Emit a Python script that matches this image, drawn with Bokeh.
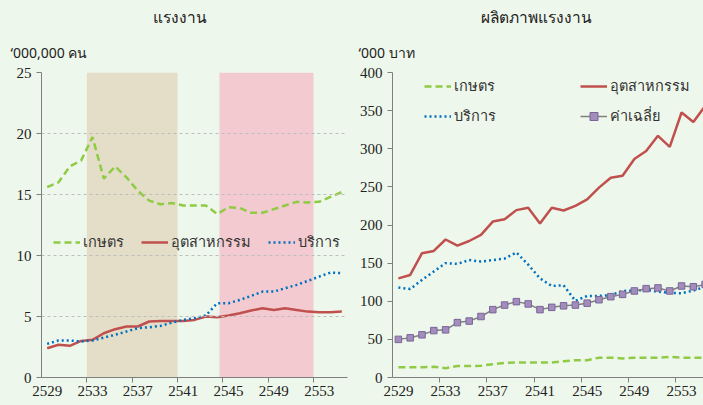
from bokeh.plotting import figure
from bokeh.models import Range1d, FixedTicker, BoxAnnotation, Legend, LegendItem, Title
from bokeh.layouts import row
from bokeh.embed import file_html
from bokeh.resources import INLINE

years = list(range(2529, 2556))

# Left panel: labour force ('000,000 persons)
labour_agri = [15.6, 16.0, 17.3, 17.8, 19.7, 16.3, 17.3, 16.4, 15.3, 14.5, 14.2, 14.3, 14.1, 14.1,
               14.1, 13.4, 13.95, 13.9, 13.5, 13.5, 13.8, 14.1, 14.4, 14.35, 14.4, 14.8, 15.2]
labour_ind = [2.4, 2.68, 2.6, 3.0, 3.09, 3.63, 3.96, 4.18, 4.18, 4.59, 4.64, 4.64, 4.64, 4.72,
              4.99, 4.94, 5.08, 5.27, 5.49, 5.68, 5.54, 5.68, 5.54, 5.40, 5.35, 5.35, 5.40]
labour_serv = [2.76, 3.03, 3.03, 2.95, 3.03, 3.27, 3.5, 3.77, 4.04, 4.12, 4.23, 4.5, 4.72, 4.86,
               5.08, 6.09, 6.09, 6.36, 6.69, 7.04, 7.04, 7.32, 7.59, 7.92, 8.27, 8.6, 8.55]

# Right panel: labour productivity ('000 baht)
prod_agri = [13.6, 13.6, 13.6, 14.0, 12.2, 15.0, 15.0, 15.3, 17.5, 19.2, 19.7, 19.7, 19.7, 19.7,
             21.4, 22.7, 22.7, 26.0, 26.0, 25.0, 26.0, 26.0, 26.0, 27.0, 26.0, 26.0, 26.0]
prod_ind = [130, 134.5, 163, 166, 181, 173, 179, 187, 204.5, 207.5, 219.5, 222.5, 202, 222.5,
            219, 225, 233.5, 249, 262, 264.5, 286.5, 297, 317, 302.5, 347.5, 335, 356]
prod_serv = [118, 116, 128, 139, 150, 149, 154, 152, 154, 156, 164, 148, 130, 120, 121, 100.5,
             107, 107, 108, 113.5, 114, 115, 112.5, 111, 110.5, 114, 119]
prod_avg = [50, 52, 56, 61.5, 62.5, 72, 74, 80, 89, 95, 99.5, 96.5, 89, 92, 94, 95, 97.5, 102,
            106, 109, 113.5, 116.5, 117.5, 113.5, 120, 119, 122]

tick_years = [2529, 2533, 2537, 2541, 2545, 2549, 2553]
boundary_ticks = [2532.5, 2536.5, 2540.5, 2544.5, 2548.5, 2552.5]
shade_start = [2532.5, 2544.2]
shade_end = [2540.5, 2552.5]
shade_colors = ["#E4DEC8", "#F2CAD0"]

left_yticks = [0, 5, 10, 15, 20, 25]
right_yticks = [0, 50, 100, 150, 200, 250, 300, 350, 400]

BG = "#EEF7EB"
GREEN = "#8FCB45"
RED = "#C0504D"
BLUE = "#0070C0"
GREY = "#808080"
AXIS = "#7F7F7F"
NUMFONT = "Liberation Serif"
THAI = "Noto Sans"


def style(p, yticks):
    p.background_fill_color = BG
    p.border_fill_color = BG
    p.outline_line_color = None
    p.xgrid.visible = False
    xa = p.xaxis[0]
    xa.ticker = FixedTicker(ticks=tick_years, minor_ticks=boundary_ticks)
    xa.major_tick_out = 0
    xa.major_tick_in = 0
    xa.minor_tick_out = 5
    xa.minor_tick_in = 0
    xa.minor_tick_line_color = AXIS
    xa.axis_line_color = AXIS
    xa.major_label_standoff = 3
    ya = p.yaxis[0]
    ya.ticker = FixedTicker(ticks=yticks)
    ya.major_tick_out = 5
    ya.major_tick_in = 0
    ya.minor_tick_line_color = None
    ya.axis_line_color = AXIS
    ya.major_tick_line_color = AXIS
    ya.major_label_standoff = 5
    for a in (xa, ya):
        a.major_label_text_font = NUMFONT
        a.major_label_text_font_size = "15px"
        a.major_label_text_color = "#222222"


def add_titles(p, main, unit, main_offset, unit_offset):
    p.add_layout(Title(text=unit, align="left", offset=unit_offset, text_font=THAI,
                       text_font_size="14px", text_font_style="normal", text_color="#222222",
                       standoff=21), "above")
    p.add_layout(Title(text=main, align="left", offset=main_offset, text_font=THAI,
                       text_font_size="15.5px", text_font_style="normal", text_color="#222222",
                       standoff=5), "above")


# ---------------- Left panel ----------------
p1 = figure(width=355, height=398, output_backend="svg", toolbar_location=None,
            x_range=Range1d(2528.5, 2555.5), y_range=Range1d(0, 25),
            min_border_left=41, min_border_right=8, min_border_top=72, min_border_bottom=0)
style(p1, left_yticks)
p1.ygrid.ticker = FixedTicker(ticks=left_yticks[1:])
p1.ygrid.grid_line_color = "#BDBDBD"
p1.ygrid.grid_line_dash = "3 3"
p1.ygrid.level = "glyph"
for s, e, c in zip(shade_start, shade_end, shade_colors):
    p1.add_layout(BoxAnnotation(left=s, right=e, fill_color=c, fill_alpha=1.0,
                                line_color=None, level="underlay"))
add_titles(p1, "แรงงาน", "‘000,000 คน", 111, -31)

la = p1.line(years, labour_agri, line_color=GREEN, line_width=2.5, line_dash="7 4")
li = p1.line(years, labour_ind, line_color=RED, line_width=2.5)
ls = p1.line(years, labour_serv, line_color=BLUE, line_width=2.5, line_dash="2 3")

leg1 = Legend(items=[LegendItem(label="เกษตร", renderers=[la]),
                     LegendItem(label="อุตสาหกรรม", renderers=[li]),
                     LegendItem(label="บริการ", renderers=[ls])],
              orientation="horizontal", location=(12, 124))
p1.add_layout(leg1, "center")

# ---------------- Right panel ----------------
p2 = figure(width=348, height=398, output_backend="svg", toolbar_location=None,
            x_range=Range1d(2528.5, 2554.86), y_range=Range1d(0, 400),
            min_border_left=37, min_border_right=0, min_border_top=72, min_border_bottom=0)
style(p2, right_yticks)
p2.ygrid.visible = False
add_titles(p2, "ผลิตภาพแรงงาน", "‘000 บาท", 88, -34)

ra = p2.line(years, prod_agri, line_color=GREEN, line_width=2.5, line_dash="7 4")
ri = p2.line(years, prod_ind, line_color=RED, line_width=2.5)
rs = p2.line(years, prod_serv, line_color=BLUE, line_width=2.5, line_dash="2 3")
rv = p2.line(years, prod_avg, line_color=GREY, line_width=1.5)
rm = p2.scatter(years, prod_avg, marker="square", size=6.5, fill_color="#A28DBD",
                line_color="#7A6699", line_width=1)

leg2a = Legend(items=[LegendItem(label="เกษตร", renderers=[ra]),
                      LegendItem(label="บริการ", renderers=[rs])],
               orientation="vertical", location=(32, 250))
leg2b = Legend(items=[LegendItem(label="อุตสาหกรรม", renderers=[ri]),
                      LegendItem(label="ค่าเฉลี่ย", renderers=[rv, rm])],
               orientation="vertical", location=(188, 250))
p2.add_layout(leg2a, "center")
p2.add_layout(leg2b, "center")

for lg in (leg1, leg2a, leg2b):
    lg.background_fill_alpha = 0
    lg.border_line_color = None
    lg.padding = 0
    lg.margin = 0
    lg.glyph_width = 27
    lg.glyph_height = 20
    lg.label_standoff = 3
    lg.label_text_font = THAI
    lg.label_text_font_size = "14.5px"
    lg.label_text_color = "#333333"
leg1.spacing = 17
leg2a.spacing = 7
leg2b.spacing = 7

layout = row(p1, p2)
html = file_html(layout, INLINE)
html = html.replace("</head>", "<style>html,body{background:%s;}</style></head>" % BG, 1)
open("out.html", "w").write(html)
